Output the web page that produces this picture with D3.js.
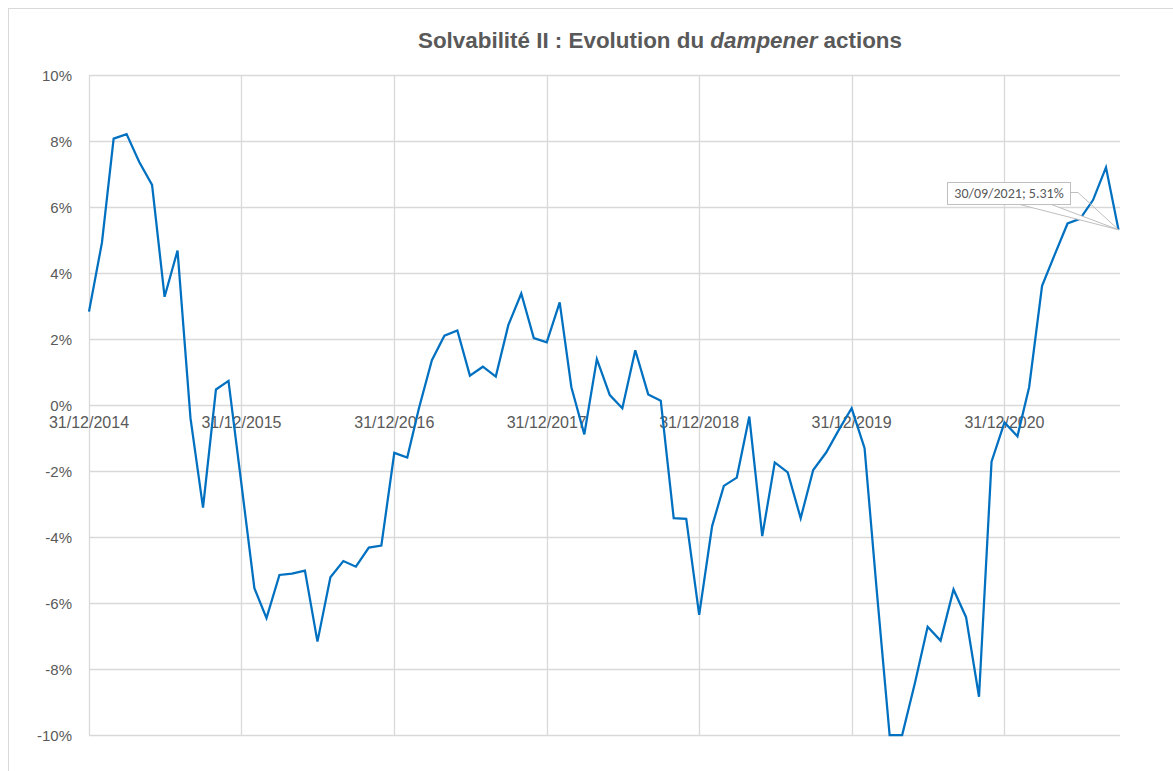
<!DOCTYPE html>
<html>
<head>
<meta charset="utf-8">
<script src="https://cdn.jsdelivr.net/npm/d3@7"></script>
<style>
  body { margin: 0; background: #fff; }
  svg { display: block; }
</style>
</head>
<body>
<svg id="chart" width="1173" height="771"></svg>
<script>
// dampener actions, month ends from 31/12/2014 to 30/09/2021 (%)
var startDate = "2014-12-31"
var endDate = "2021-09-30"
var dampener = [
  2.83, 4.92, 8.07, 8.21, 7.37, 6.67, 3.28, 4.68, -0.4, -3.11, 0.47, 0.73,
  -2.4, -5.55, -6.46, -5.15, -5.11, -5.02, -7.17, -5.22, -4.73, -4.9, -4.32, -4.26,
  -1.45, -1.59, -0.1, 1.36, 2.1, 2.26, 0.89, 1.16, 0.86, 2.42, 3.38, 2.03,
  1.9, 3.11, 0.54, -0.89, 1.39, 0.3, -0.1, 1.66, 0.32, 0.13, -3.43, -3.45,
  -6.36, -3.67, -2.45, -2.2, -0.35, -3.97, -1.74, -2.04, -3.43, -1.97, -1.44, -0.76,
  -0.1, -1.31, -5.6, -10, -10, -8.4, -6.72, -7.14, -5.59, -6.43, -8.84, -1.72,
  -0.53, -0.95, 0.54, 3.61, 4.55, 5.5, 5.64, 6.21, 7.2, 5.31
]
var yTicks = [-10, -8, -6, -4, -2, 0, 2, 4, 6, 8, 10]
var xTickDates = ["2014-12-31", "2015-12-31", "2016-12-31", "2017-12-31", "2018-12-31", "2019-12-31", "2020-12-31"]
var xTickLabels = ["31/12/2014", "31/12/2015", "31/12/2016", "31/12/2017", "31/12/2018", "31/12/2019", "31/12/2020"]
var title = ["Solvabilité II : Evolution du ", "dampener", " actions"]
var lastLabel = "30/09/2021; 5.31%"

var parse = d3.utcParse("%Y-%m-%d")
var grey = "#595959"
var font = "'Liberation Sans', Arial, sans-serif"

// month end dates for each point
var dates = dampener.map(function(v, i){
  return d3.utcDay.offset(d3.utcMonth.offset(d3.utcMonth.floor(parse(startDate)), i + 1), -1)
})
var data = dampener.map(function(v, i){ return { date: dates[i], value: v } })

var svg = d3.select("#chart")

// outer chart border
svg.append("rect")
  .attr("x", 8.5).attr("y", 8.5)
  .attr("width", 1200).attr("height", 800)
  .attr("fill", "none").attr("stroke", "#d9d9d9")

var x = d3.scaleUtc().domain([parse(startDate), parse(endDate)]).range([89, 1118.5])
var y = d3.scaleLinear().domain([-10, 10]).range([735, 75])
var plotRight = 1120

// horizontal gridlines
svg.append("g").selectAll("line").data(yTicks).enter().append("line")
  .attr("x1", 89).attr("x2", plotRight)
  .attr("y1", function(d){ return Math.round(y(d)) + 0.5 })
  .attr("y2", function(d){ return Math.round(y(d)) + 0.5 })
  .attr("stroke", "#d9d9d9").attr("stroke-width", 1.3)

// vertical gridlines
svg.append("g").selectAll("line").data(xTickDates).enter().append("line")
  .attr("x1", function(d){ return Math.round(x(parse(d))) + 0.5 })
  .attr("x2", function(d){ return Math.round(x(parse(d))) + 0.5 })
  .attr("y1", y(10)).attr("y2", y(-10))
  .attr("stroke", "#d9d9d9").attr("stroke-width", 1.3)

// y axis labels
svg.append("g").selectAll("text").data(yTicks).enter().append("text")
  .attr("x", 72).attr("y", function(d){ return y(d) + 5.5 })
  .attr("text-anchor", "end")
  .attr("font-family", font).attr("font-size", 15).attr("fill", grey)
  .text(function(d){ return d + "%" })

// x axis labels, sitting under the 0% line
svg.append("g").selectAll("text").data(xTickDates).enter().append("text")
  .attr("x", function(d){ return x(parse(d)) })
  .attr("y", y(0) + 23)
  .attr("text-anchor", "middle")
  .attr("font-family", font).attr("font-size", 16).attr("fill", grey)
  .text(function(d, i){ return xTickLabels[i] })

// the series
var line = d3.line()
  .x(function(d){ return x(d.date) })
  .y(function(d){ return y(d.value) })

svg.append("path").datum(data)
  .attr("d", line)
  .attr("fill", "none")
  .attr("stroke", "#0070c0")
  .attr("stroke-width", 2.25)
  .attr("stroke-linejoin", "miter")

// title
var t = svg.append("text")
  .attr("x", 660).attr("y", 48)
  .attr("text-anchor", "middle")
  .attr("font-family", font).attr("font-size", 22.4).attr("font-weight", "bold")
  .attr("fill", grey)
t.append("tspan").text(title[0])
t.append("tspan").attr("font-style", "italic").text(title[1])
t.append("tspan").text(title[2])

// callout for the last point
var last = data[data.length - 1]
var px = x(last.date), py = y(last.value)
var box = { x: 947, y: 182, w: 123, h: 22 }

svg.append("path")
  .attr("d", "M" + (box.x + 71) + "," + (box.y + box.h) + "L" + px + "," + py + "L" + (box.x + 103) + "," + (box.y + box.h))
  .attr("fill", "#fff").attr("stroke", "#bfbfbf").attr("stroke-width", 1)
svg.append("path")
  .attr("d", "M" + (box.x + box.w) + "," + (box.y + 10.5) + "L" + (box.x + box.w + 8) + "," + (box.y + 10.5) + "L" + px + "," + py)
  .attr("fill", "none").attr("stroke", "#bfbfbf").attr("stroke-width", 1)
svg.append("rect")
  .attr("x", box.x + 0.5).attr("y", box.y + 0.5)
  .attr("width", box.w).attr("height", box.h)
  .attr("fill", "#fff").attr("stroke", "#bfbfbf").attr("stroke-width", 1)
svg.append("text")
  .attr("x", box.x + box.w / 2 + 0.5).attr("y", box.y + 16)
  .attr("text-anchor", "middle")
  .attr("font-family", "Carlito, 'Open Sans', sans-serif").attr("font-size", 14).attr("fill", grey)
  .text(lastLabel)
</script>
</body>
</html>
